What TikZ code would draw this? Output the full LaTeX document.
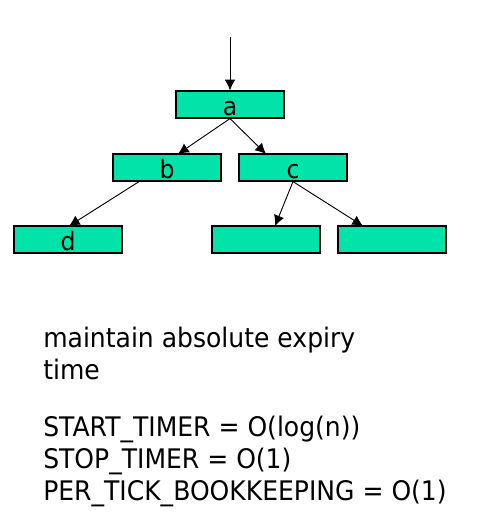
\documentclass[tikz,border=0pt]{standalone}
\usepackage{fontspec}
\setmainfont{DejaVu Sans}
\newfontfamily\txtfont[FakeStretch=0.93]{DejaVu Sans}
\usetikzlibrary{arrows.meta}
\definecolor{boxgreen}{RGB}{0,228,170}
\tikzset{
  tbox/.style={draw=black, fill=boxgreen, line width=0.9pt, minimum width=81pt, minimum height=20.25pt, inner sep=0pt},
  lbl/.style={anchor=base, inner sep=0pt, font=\txtfont\fontsize{19}{21}\selectfont},
  txt/.style={anchor=base west, inner sep=0pt, font=\txtfont\fontsize{20.2}{24}\selectfont},
  arr/.style={-{Latex[length=8pt,width=8pt]}, line width=0.7pt}
}
\begin{document}
\begin{tikzpicture}[x=0.75pt,y=-0.75pt]
\useasboundingbox (0,0) rectangle (481,522);
% boxes
\node[tbox] (a) at (230,104.5) {};
\node[tbox] (b) at (167,167.5) {};
\node[tbox] (c) at (293,167.5) {};
\node[tbox] (d) at (68,239.5) {};
\node[tbox] (e) at (266,239.5) {};
\node[tbox] (f) at (392,239.5) {};
% labels
\node[lbl] (la) at (230,115) {a};
\node[lbl] (lb) at (167,178) {b};
\node[lbl] (lc) at (293,178) {c};
\node[lbl] (ld) at (68,250) {d};
% connector points
\coordinate (top) at (230,37);
\coordinate (bT) at (178,154);
\coordinate (cT) at (266,154);
\coordinate (bB) at (140,181);
\coordinate (dT) at (69,226);
\coordinate (eT) at (275,226);
\coordinate (fT) at (363,226);
\draw[arr] (top) -- (a.north);
\draw[arr] (a.south) -- (bT);
\draw[arr] (a.south) -- (cT);
\draw[arr] (bB) -- (dT);
\draw[arr] (c.south) -- (eT);
\draw[arr] (c.south) -- (fT);
% text
\node[txt] (t1) at (43,347) {maintain absolute expiry};
\node[txt] (t2) at (43,379) {time};
\node[txt] (t3) at (43,436) {START\_TIMER = O(log(n))};
\node[txt] (t4) at (43,468) {STOP\_TIMER = O(1)};
\node[txt] (t5) at (43,500) {PER\_TICK\_BOOKKEEPING = O(1)};
\end{tikzpicture}
\end{document}
